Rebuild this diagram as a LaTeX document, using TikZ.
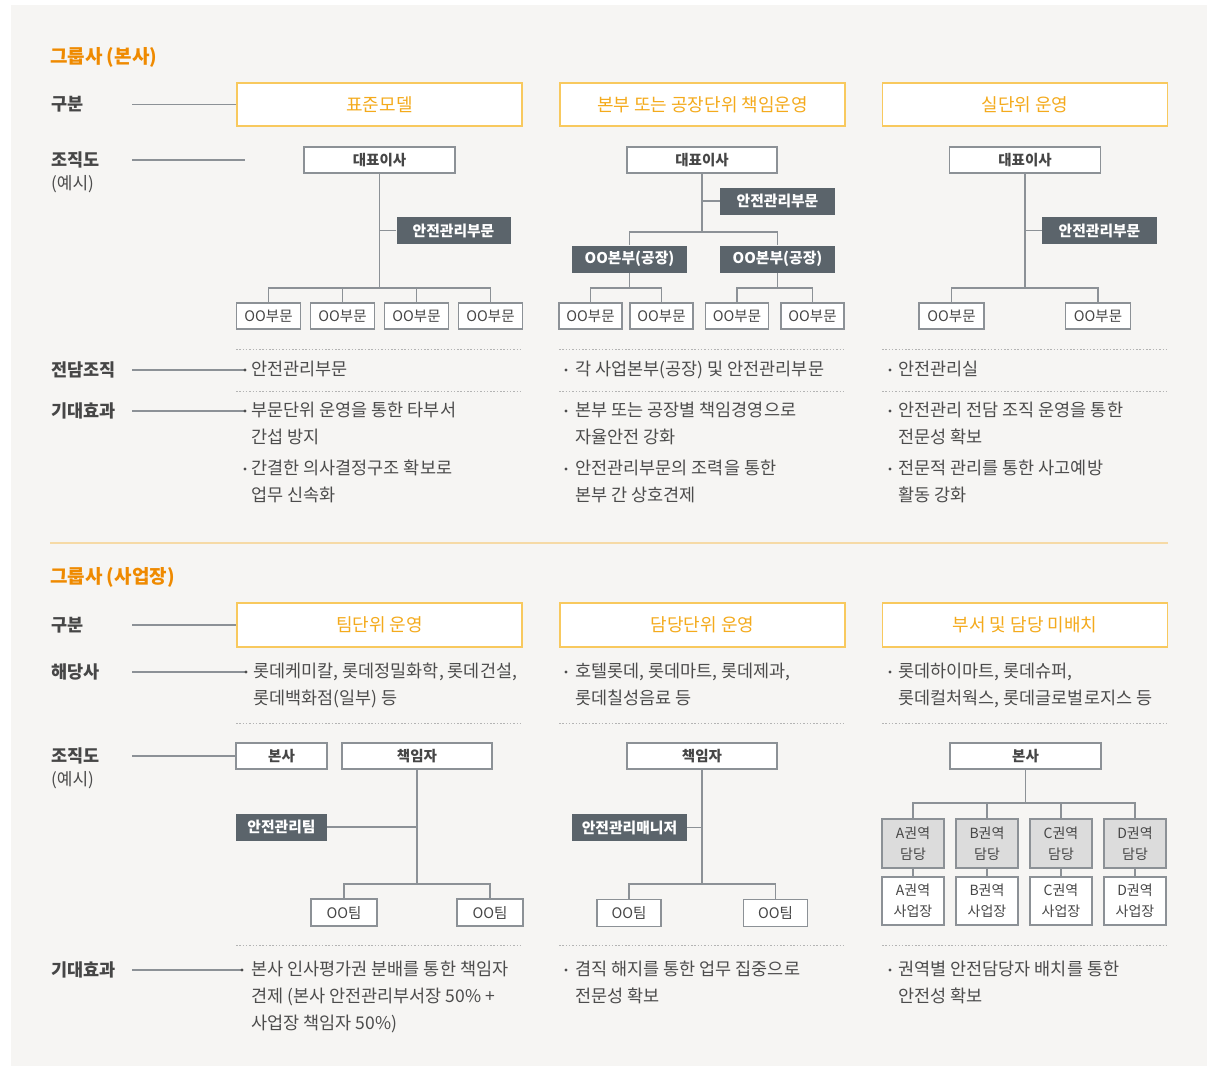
\documentclass[tikz,border=0pt]{standalone}
\usepackage{xcolor}
\usepackage{fontspec}
\setmainfont{Noto Sans CJK KR}
\usetikzlibrary{positioning}

\definecolor{bgcol}{HTML}{F6F5F3}
\definecolor{titlecol}{HTML}{EF8A00}
\definecolor{hdrtext}{HTML}{F4AA1C}
\definecolor{hdrline}{HTML}{F8C95E}
\definecolor{darkfill}{HTML}{5B646B}
\definecolor{linecol}{HTML}{8C9196}
\definecolor{txtcol}{HTML}{4C4C4C}
\definecolor{lblcol}{HTML}{464646}
\definecolor{dotcol}{HTML}{B4B4B4}
\definecolor{regionfill}{HTML}{DCDCDC}
\definecolor{divcol}{HTML}{F6DAA6}

\tikzset{
  hdr/.style={draw=hdrline, line width=1.5pt, fill=white, minimum width=285pt, minimum height=43pt,
    inner sep=0pt, text=hdrtext, font=\fontsize{18}{21}\selectfont},
  org/.style={draw=linecol, line width=1.4pt, fill=white, minimum height=26pt, inner sep=0pt,
    text=lblcol, font=\fontsize{14.5}{17}\selectfont},
  orgb/.style={org, font=\fontsize{14.5}{17}\selectfont\bfseries},
  dark/.style={fill=darkfill, minimum width=115pt, minimum height=27pt, inner sep=0pt,
    text=white, font=\fontsize{14.8}{17}\selectfont\bfseries},
  region/.style={org, fill=regionfill, minimum width=62pt, minimum height=49pt, align=center,
    font=\fontsize{14}{21}\selectfont},
  site/.style={org, minimum width=62pt, minimum height=48pt, align=center,
    font=\fontsize{14}{21}\selectfont},
  rowlbl/.style={anchor=west, inner sep=0pt, text width=81pt, align=left, text=lblcol,
    font=\fontsize{17.5}{21}\selectfont\bfseries},
  sublbl/.style={anchor=west, inner sep=0pt, text=txtcol, font=\fontsize{17}{21}\selectfont},
  secttl/.style={anchor=west, inner sep=0pt, text=titlecol, font=\fontsize{19}{23}\selectfont\bfseries},
  item/.style={anchor=north west, inner sep=0pt, align=left, text=txtcol, font=\fontsize{17.5}{27}\selectfont},
  conn/.style={draw=linecol, line width=1.3pt},
  lead/.style={draw=linecol, line width=1.2pt},
  dotsep/.style={draw=dotcol, line width=1pt, dash pattern=on 1.5pt off 1.8pt},
}
\newcommand\itemdot[2]{\fill[txtcol] (#1,#2) circle (1.7);}

\begin{document}
\begin{tikzpicture}[x=1pt, y=-1pt]
\useasboundingbox (0,0) rectangle (1207,1066);
\fill[bgcol] (11,5) rectangle (1207,1066);

%% ---------- 그룹사 (본사) ----------
\node[secttl] (t1) at (50,57) {그룹사 (본사)};
\node[rowlbl] (l11) at (51,104.5) {구분};
\node[rowlbl] (l12) at (51,160) {조직도};
\node[sublbl] (l12b) at (51,184) {(예시)};
\node[rowlbl] (l13) at (51,370) {전담조직};
\node[rowlbl] (l14) at (51,411) {기대효과};

\node[hdr] (h1) at (379.5,104.5) {표준모델};
\node[hdr] (h2) at (702.5,104.5) {본부 또는 공장단위 책임운영};
\node[hdr] (h3) at (1025,104.5) {실단위 운영};

\coordinate (e12) at (245,160);
\coordinate (e13) at (245,370);
\coordinate (e14) at (245,411);
\draw[lead] (l11.east) -- (h1.west);
\draw[lead] (l12.east) -- (e12);
\draw[lead] (l13.east) -- (e13);
\draw[lead] (l14.east) -- (e14);
\fill[txtcol] (e13) circle (1.7) (e14) circle (1.7);

% 표준모델
\node[orgb, minimum width=151pt] (ceo1) at (379.5,160) {대표이사};
\node[dark, minimum width=114pt] (sd1) at (453.5,230.5) {안전관리부문};
\foreach \i/\x in {1/268.5,2/342.5,3/416.5,4/490.5}
  \node[org, minimum width=64pt] (u1\i) at (\x,316) {OO부문};
\coordinate (b1) at (379.5,288);
\draw[conn] (ceo1.south) -- (b1);
\draw[conn] (sd1.west) -- (sd1.west -| ceo1.south);
\draw[conn] (u11.north) |- (b1) -| (u14.north);
\draw[conn] (u12.north) -- (u12.north |- b1);
\draw[conn] (u13.north) -- (u13.north |- b1);

% 본부 또는 공장단위
\node[orgb, minimum width=150pt] (ceo2) at (702,160) {대표이사};
\node[dark] (sd2) at (777.5,201) {안전관리부문};
\node[dark] (dv1) at (629.5,259) {OO본부(공장)};
\node[dark] (dv2) at (777.5,259) {OO본부(공장)};
\foreach \i/\x in {1/590.5,2/661.5,3/737,4/812.5}
  \node[org, minimum width=63pt] (u2\i) at (\x,316) {OO부문};
\coordinate (b2) at (702,232);
\coordinate (b21) at (629.5,288);
\coordinate (b22) at (777.5,288);
\draw[conn] (ceo2.south) -- (b2);
\draw[conn] (sd2.west) -- (sd2.west -| ceo2.south);
\draw[conn] (dv1.north) |- (b2) -| (dv2.north);
\draw[conn] (dv1.south) -- (b21);
\draw[conn] (dv2.south) -- (b22);
\draw[conn] (u21.north) |- (b21) -| (u22.north);
\draw[conn] (u23.north) |- (b22) -| (u24.north);

% 실단위
\node[orgb, minimum width=151pt] (ceo3) at (1025,160) {대표이사};
\node[dark] (sd3) at (1099.5,230.5) {안전관리부문};
\node[org, minimum width=65pt] (u31) at (951.5,316) {OO부문};
\node[org, minimum width=65pt] (u32) at (1098,316) {OO부문};
\coordinate (b3) at (1025,288);
\draw[conn] (ceo3.south) -- (b3);
\draw[conn] (sd3.west) -- (sd3.west -| ceo3.south);
\draw[conn] (u31.north) |- (b3) -| (u32.north);

\foreach \y in {349,391}
  \foreach \a/\b in {236/523,559/846,882/1169}
    \draw[dotsep] (\a,\y) -- (\b,\y);

% 전담조직 / 기대효과
\node[item] (j1) at (251,360.5) {안전관리부문};
\itemdot{566}{370}
\node[item] (j2) at (575,360.5) {각 사업본부(공장) 및 안전관리부문};
\itemdot{890}{370}
\node[item] (j3) at (898,360.5) {안전관리실};

\node[item] (k11) at (251,401.5) {부문단위 운영을 통한 타부서\\간섭 방지};
\itemdot{245}{469}
\node[item] (k12) at (251,459.5) {간결한 의사결정구조 확보로\\업무 신속화};
\itemdot{566}{411}
\node[item] (k21) at (575,401.5) {본부 또는 공장별 책임경영으로\\자율안전 강화};
\itemdot{566}{469}
\node[item] (k22) at (575,459.5) {안전관리부문의 조력을 통한\\본부 간 상호견제};
\itemdot{890}{411}
\node[item] (k31) at (898,401.5) {안전관리 전담 조직 운영을 통한\\전문성 확보};
\itemdot{890}{469}
\node[item] (k32) at (898,459.5) {전문적 관리를 통한 사고예방\\활동 강화};

\draw[divcol, line width=2pt] (50,543) -- (1168,543);

%% ---------- 그룹사 (사업장) ----------
\node[secttl] (t2) at (50,577) {그룹사 (사업장)};
\node[rowlbl] (l21) at (51,625) {구분};
\node[rowlbl] (l22) at (51,672) {해당사};
\node[rowlbl] (l23) at (51,756) {조직도};
\node[sublbl] (l23b) at (51,780) {(예시)};
\node[rowlbl] (l24) at (51,970) {기대효과};

\node[hdr, minimum height=44pt] (h4) at (379.5,625) {팀단위 운영};
\node[hdr, minimum height=44pt] (h5) at (702.5,625) {담당단위 운영};
\node[hdr, minimum height=44pt] (h6) at (1025,625) {부서 및 담당 미배치};

\coordinate (e22) at (246,672);
\coordinate (e24) at (242,970);

% 팀단위
\node[orgb, minimum width=91pt] (hq4) at (281.5,756) {본사};
\node[orgb, minimum width=150pt] (boss4) at (417,756) {책임자};
\node[dark, minimum width=91pt] (st4) at (281.5,827) {안전관리팀};
\node[org, minimum width=66pt, minimum height=27pt] (tm41) at (344,912.5) {OO팀};
\node[org, minimum width=66pt, minimum height=27pt] (tm42) at (490,912.5) {OO팀};
\coordinate (b4) at (417,884);
\draw[conn] (boss4.south) -- (b4);
\draw[conn] (st4.east) -- (st4.east -| boss4.south);
\draw[conn] (tm41.north) |- (b4) -| (tm42.north);

\draw[lead] (l21.east) -- (h4.west);
\draw[lead] (l22.east) -- (e22);
\draw[lead] (l23.east) -- (hq4.west);
\draw[lead] (l24.east) -- (e24);
\fill[txtcol] (e22) circle (1.7) (e24) circle (1.7);

% 담당단위
\node[orgb, minimum width=150pt] (boss5) at (702,756) {책임자};
\node[dark] (mg5) at (629.5,827.5) {안전관리매니저};
\node[org, minimum width=64pt, minimum height=27pt] (tm51) at (629,913) {OO팀};
\node[org, minimum width=64pt, minimum height=27pt] (tm52) at (775.5,913) {OO팀};
\coordinate (b5) at (702,884);
\draw[conn] (boss5.south) -- (b5);
\draw[conn] (mg5.east) -- (mg5.east -| boss5.south);
\draw[conn] (tm51.north) |- (b5) -| (tm52.north);

% 미배치
\node[orgb, minimum width=151pt] (hq6) at (1025.5,756) {본사};
\foreach \i/\x/\rg in {1/913/A,2/987/B,3/1061/C,4/1135/D} {
  \node[region] (rg\i) at (\x,843.5) {\rg{}권역\\담당};
  \node[site] (ws\i) at (\x,901) {\rg{}권역\\사업장};
  \draw[conn] (rg\i.south) -- (ws\i.north);
}
\coordinate (b6) at (1025.5,803);
\draw[conn] (hq6.south) -- (b6);
\draw[conn] (rg1.north) |- (b6) -| (rg4.north);
\draw[conn] (rg2.north) -- (rg2.north |- b6);
\draw[conn] (rg3.north) -- (rg3.north |- b6);

\foreach \y in {723,945}
  \foreach \a/\b in {236/523,559/846,882/1169}
    \draw[dotsep] (\a,\y) -- (\b,\y);

% 해당사 / 기대효과
\node[item] (m1) at (253,662.5) {롯데케미칼, 롯데정밀화학, 롯데건설,\\롯데백화점(일부) 등};
\itemdot{566}{672}
\node[item] (m2) at (575,662.5) {호텔롯데, 롯데마트, 롯데제과,\\롯데칠성음료 등};
\itemdot{890}{672}
\node[item] (m3) at (898,662.5) {롯데하이마트, 롯데슈퍼,\\롯데컬처웍스, 롯데글로벌로지스 등};

\node[item] (n1) at (251,960.5) {본사 인사평가권 분배를 통한 책임자\\견제 (본사 안전관리부서장 50\% +\\사업장 책임자 50\%)};
\itemdot{566}{970}
\node[item] (n2) at (575,960.5) {겸직 해지를 통한 업무 집중으로\\전문성 확보};
\itemdot{890}{970}
\node[item] (n3) at (898,960.5) {권역별 안전담당자 배치를 통한\\안전성 확보};
\end{tikzpicture}
\end{document}
